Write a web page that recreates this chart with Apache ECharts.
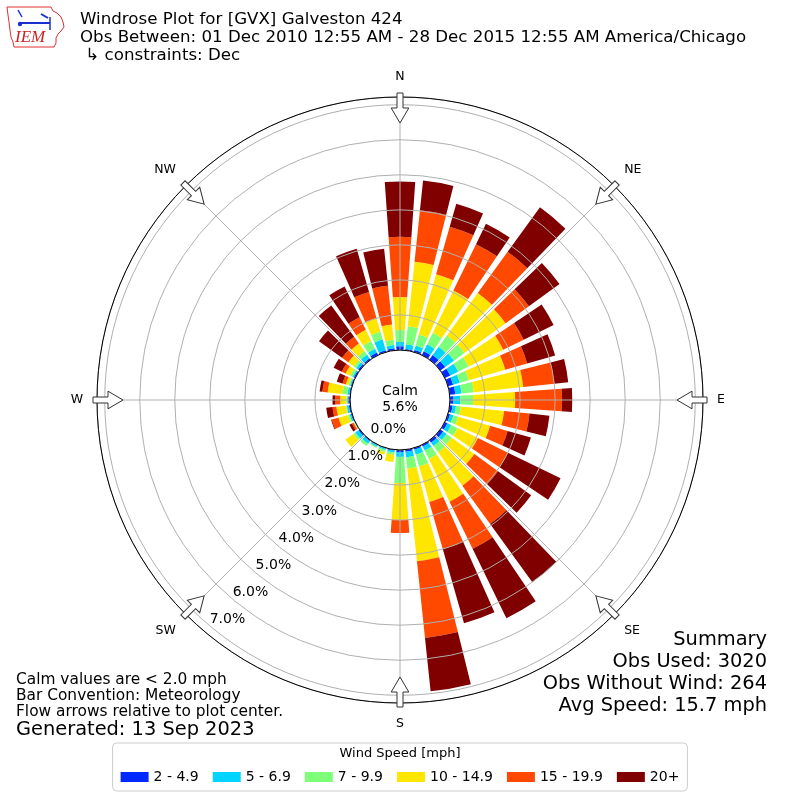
<!DOCTYPE html>
<html>
<head>
<meta charset="utf-8">
<title>Windrose GVX Galveston</title>
<script src="https://cdn.jsdelivr.net/npm/echarts@6/dist/echarts.min.js"></script>
<style>
html, body { margin: 0; padding: 0; background: #fff; }
#rose { width: 800px; height: 800px; }
</style>
</head>
<body>
<div id="rose"></div>
<script>
// direction bins (deg, meteorological), 10 degree wide
var dirs = ['0', '10', '20', '30', '40', '50', '60', '70', '80', '90', '100', '110',
    '120', '130', '140', '150', '160', '170', '180', '190', '200', '210', '220', '230',
    '240', '250', '260', '270', '280', '290', '300', '310', '320', '330', '340', '350'];
var compass = ['N', 'NE', 'E', 'SE', 'S', 'SW', 'W', 'NW'];
var bins = ['2 - 4.9', '5 - 6.9', '7 - 9.9', '10 - 14.9', '15 - 19.9', '20+'];
var binColors = ['#0028ff', '#00d4ff', '#7dff7a', '#ffe600', '#ff4800', '#800000'];

// frequency [%] per direction, one array per speed bin
var s2 = [0.11, 0.04, 0.06, 0.12, 0.16, 0.17, 0.17, 0.15, 0.16, 0.10, 0.08, 0.06,
    0.08, 0.10, 0.08, 0.05, 0.05, 0.06, 0.06, 0.03, 0.02, 0.02, 0.03, 0.04,
    0.01, 0.03, 0.04, 0.05, 0.03, 0.03, 0.04, 0.05, 0.05, 0.08, 0.05, 0.06];
var s5 = [0.12, 0.13, 0.13, 0.22, 0.29, 0.31, 0.25, 0.20, 0.18, 0.19, 0.10, 0.10,
    0.12, 0.12, 0.12, 0.13, 0.15, 0.16, 0.14, 0.05, 0.04, 0.04, 0.09, 0.11,
    0.01, 0.04, 0.06, 0.03, 0.05, 0.03, 0.04, 0.07, 0.13, 0.12, 0.32, 0.09];
var s7 = [0.34, 0.52, 0.33, 0.37, 0.40, 0.37, 0.33, 0.27, 0.35, 0.37, 0.14, 0.14,
    0.20, 0.18, 0.22, 0.27, 0.35, 0.32, 0.74, 0.07, 0.06, 0.04, 0.08, 0.07,
    0.01, 0.05, 0.02, 0.02, 0.14, 0.04, 0.07, 0.08, 0.12, 0.25, 0.23, 0.15];
var s10 = [0.94, 1.85, 1.79, 1.34, 1.50, 1.45, 1.10, 1.08, 1.42, 1.20, 1.24, 0.95,
    0.65, 0.80, 1.18, 1.35, 1.05, 2.66, 1.06, 0.20, 0.08, 0, 0, 0.28,
    0.02, 0.28, 0.28, 0.18, 0.43, 0.08, 0.15, 0.20, 0.27, 0.35, 0.40, 0.44];
var s15 = [1.72, 1.48, 1.41, 1.47, 1.45, 0.82, 0.65, 0.65, 0.89, 1.34, 0.73, 0.52,
    0.95, 0.83, 1.35, 1.50, 1.40, 2.20, 0.37, 0, 0, 0, 0, 0,
    0.05, 0.20, 0.11, 0.14, 0.15, 0.10, 0.12, 0.22, 0.23, 0.40, 0.78, 1.11];
var s20 = [1.58, 0.85, 0.68, 0.65, 1.57, 1.08, 0.95, 0.83, 0.40, 0.29, 0.57, 0.69,
    1.67, 1.17, 2.05, 2.20, 2.20, 1.53, 0, 0, 0, 0, 0, 0,
    0.08, 0.02, 0.18, 0.08, 0.08, 0.17, 0.26, 0.81, 1.11, 0.98, 1.28, 1.06];
var speedData = [s2, s5, s7, s10, s15, s20];

var rMax = 7.22; // outer ring, %
var calmPct = '5.6%';

var titleLines = [
    'Windrose Plot for [GVX] Galveston 424',
    'Obs Between: 01 Dec 2010 12:55 AM - 28 Dec 2015 12:55 AM America/Chicago',
    ' \u21b3 constraints: Dec'
];
var noteLines = ['Calm values are < 2.0 mph', 'Bar Convention: Meteorology',
    'Flow arrows relative to plot center.'];
var generated = 'Generated: 13 Sep 2023';
var summaryLines = ['Summary', 'Obs Used: 3020', 'Obs Without Wind: 264', 'Avg Speed: 15.7 mph'];

var FONT = 'DejaVu Sans';
var dom = document.getElementById('rose');
var myChart = echarts.init(dom);

var series = bins.map(function (name, i) {
    return {
        name: name,
        type: 'bar',
        coordinateSystem: 'polar',
        polarIndex: 0,
        stack: 'speed',
        barWidth: '80%',
        itemStyle: { color: binColors[i] },
        data: speedData[i]
    };
});

// hollow flow arrows on the rim
var arrows = compass.map(function (c, i) {
    return {
        type: 'polygon',
        x: 400, y: 400,
        rotation: -i * Math.PI / 4,
        z: 100,
        shape: { points: [[-3, -307], [3, -307], [3, -292], [8.8, -292], [0, -277], [-8.8, -292], [-3, -292]] },
        style: { fill: '#fff', stroke: '#333', lineWidth: 1 }
    };
});

var texts = [];
titleLines.forEach(function (t, i) {
    texts.push({ type: 'text', x: 80, y: 20 + i * 18, z: 100,
        style: { text: t, font: '16.67px "' + FONT + '"', fill: '#000', verticalAlign: 'middle' } });
});
noteLines.forEach(function (t, i) {
    texts.push({ type: 'text', x: 16, y: 680 + i * 16, z: 100,
        style: { text: t, font: '15.4px "' + FONT + '"', fill: '#000', verticalAlign: 'middle' } });
});
texts.push({ type: 'text', x: 16, y: 730, z: 100,
    style: { text: generated, font: '19.4px "' + FONT + '"', fill: '#000', verticalAlign: 'middle' } });
summaryLines.forEach(function (t, i) {
    texts.push({ type: 'text', x: 767, y: 640 + i * 22, z: 100,
        style: { text: t, font: '19.4px "' + FONT + '"', fill: '#000', align: 'right', verticalAlign: 'middle' } });
});
texts.push({ type: 'text', x: 400, y: 391, z: 100,
    style: { text: 'Calm', font: '14px "' + FONT + '"', fill: '#000', align: 'center', verticalAlign: 'middle' } });
texts.push({ type: 'text', x: 400, y: 407, z: 100,
    style: { text: calmPct, font: '14px "' + FONT + '"', fill: '#000', align: 'center', verticalAlign: 'middle' } });
texts.push({ type: 'text', x: 400, y: 754, z: 100,
    style: { text: 'Wind Speed [mph]', font: '13px "' + FONT + '"', fill: '#000', align: 'center', verticalAlign: 'middle' } });

// IEM logo, rough
var logo = [
    { type: 'polyline', z: 100, shape: { points: [[7, 7], [51, 7], [53, 11], [57, 13], [61, 17], [63, 22], [64, 27],
        [61, 31], [58, 34], [56, 38], [56, 43], [54, 47], [14, 47], [13, 42], [11, 37], [10, 30], [9, 22], [8, 15], [7, 7]] },
      style: { stroke: '#e03030', lineWidth: 1, fill: null } },
    { type: 'line', z: 100, shape: { x1: 20, y1: 23, x2: 50, y2: 23 }, style: { stroke: '#1a2fd0', lineWidth: 2 } },
    { type: 'line', z: 100, shape: { x1: 50, y1: 17, x2: 50, y2: 30 }, style: { stroke: '#1a2fd0', lineWidth: 1.5 } },
    { type: 'line', z: 100, shape: { x1: 18, y1: 10, x2: 22, y2: 17 }, style: { stroke: '#1a2fd0', lineWidth: 1.5 } },
    { type: 'line', z: 100, shape: { x1: 41, y1: 14, x2: 48, y2: 18 }, style: { stroke: '#1a2fd0', lineWidth: 2 } },
    { type: 'circle', z: 100, shape: { cx: 20, cy: 24, r: 2.2 }, style: { fill: '#1a2fd0' } },
    { type: 'text', x: 15, y: 38, z: 100,
      style: { text: 'IEM', font: 'italic 17px "Liberation Serif"', fill: '#d02020', verticalAlign: 'middle' } }
];

option = {
    backgroundColor: '#fff',
    animation: false,
    textStyle: { fontFamily: FONT },
    legend: {
        left: 'center',
        top: 743,
        padding: [27, 8, 7, 8],
        itemWidth: 28,
        itemHeight: 10,
        itemGap: 14,
        icon: 'rect',
        borderColor: '#cccccc',
        borderWidth: 1,
        borderRadius: 4,
        textStyle: { fontSize: 14, fontFamily: FONT, color: '#000' },
        data: bins
    },
    polar: [
        { center: [400, 400], radius: [50, 303] },
        { center: [400, 400], radius: [50, 303] },
        { center: [400, 400], radius: [30, 287] } // only carries the % labels
    ],
    angleAxis: [
        {
            polarIndex: 0, type: 'category', data: dirs,
            startAngle: 95, clockwise: true, boundaryGap: true,
            axisLine: { show: false }, axisTick: { show: false },
            axisLabel: { show: false }, splitLine: { show: false }
        },
        {
            polarIndex: 1, type: 'value', min: 0, max: 360, interval: 45,
            startAngle: 90, clockwise: true, z: 10,
            axisLine: { lineStyle: { color: '#000', width: 1 } },
            axisTick: { show: false },
            splitLine: { show: true, lineStyle: { color: '#b0b0b0', width: 1 } },
            axisLabel: {
                margin: 14, fontSize: 12.5, fontFamily: FONT, color: '#000',
                formatter: function (v) { return v < 360 ? compass[Math.round(v / 45)] : ''; }
            }
        },
        {
            polarIndex: 2, type: 'value', min: 0, max: 360,
            startAngle: -130.2, show: false
        }
    ],
    radiusAxis: [
        {
            polarIndex: 0, type: 'value', min: 0, max: rMax, interval: 1, z: 10,
            axisLine: { show: false }, axisTick: { show: false }, axisLabel: { show: false },
            splitLine: { show: true, lineStyle: { color: '#b0b0b0', width: 1 } }
        },
        { polarIndex: 1, type: 'value', min: 0, max: 1, show: false },
        {
            polarIndex: 2, type: 'value', min: 0, max: rMax, interval: 1, z: 10,
            axisLine: { show: false }, axisTick: { show: false }, splitLine: { show: false },
            axisLabel: {
                show: true, margin: 10, align: 'center', verticalAlign: 'middle',
                fontSize: 14, fontFamily: FONT, color: '#000',
                formatter: function (v) { return Math.abs(v - Math.round(v)) < 1e-6 ? v.toFixed(1) + '%' : ''; }
            }
        }
    ],
    graphic: arrows.concat(texts, logo),
    series: series
};

if (option && typeof option === 'object') {
    myChart.setOption(option, true);
    window.onresize = function () {
        myChart.resize();
    };
}
</script>
</body>
</html>
